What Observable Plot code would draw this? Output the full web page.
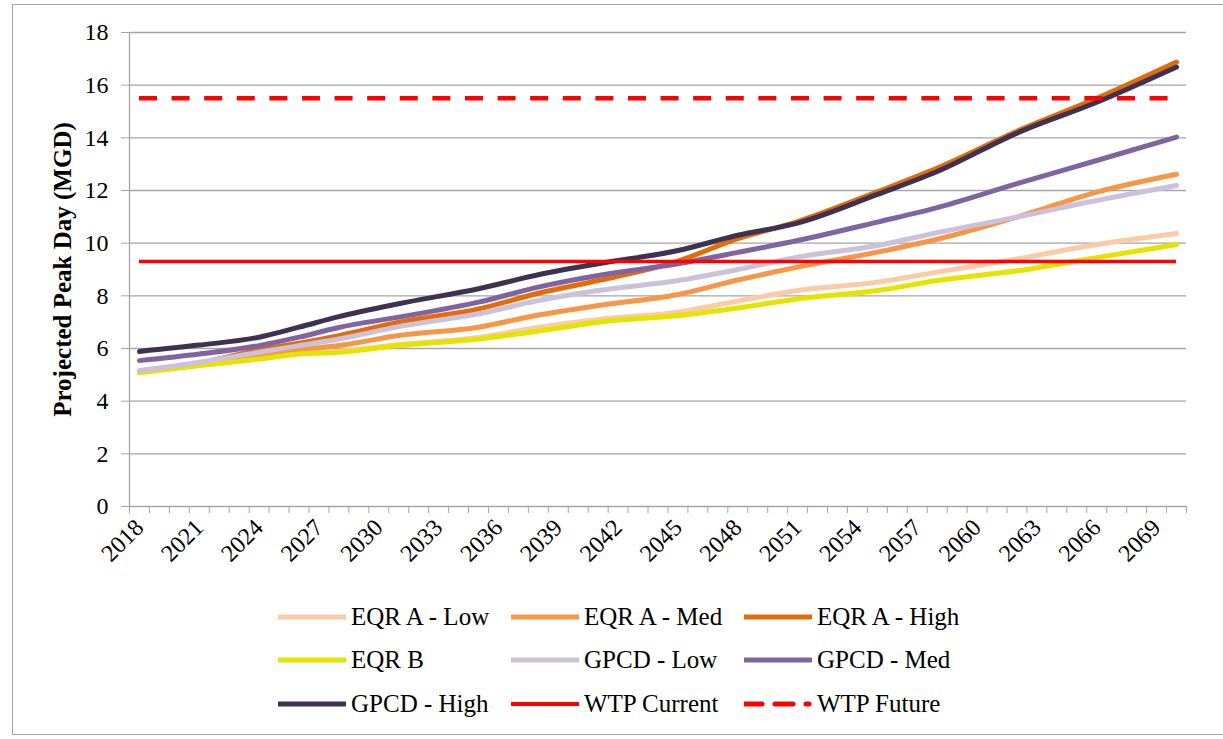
<!DOCTYPE html>
<html><head><meta charset="utf-8">
<script src="https://cdn.jsdelivr.net/npm/d3@7"></script>
<script src="https://cdn.jsdelivr.net/npm/@observablehq/plot@0.6"></script>
<style>
body{margin:0;background:#fff;font-family:"Liberation Serif","Times New Roman",serif;width:1223px;height:739px;overflow:hidden;position:relative;}
#frame{position:absolute;left:12px;top:4px;width:1230px;height:731px;border:1.5px solid #a6a6a6;box-sizing:border-box;}
#chart{position:absolute;left:0;top:0;}
#chart svg, #chart text{font-family:"Liberation Serif","Times New Roman",serif !important;}
#legend{position:absolute;left:0;top:0;width:1223px;height:739px;}
.item{position:absolute;height:30px;display:flex;align-items:center;font-size:25px;color:#000;white-space:nowrap;}
.item svg{margin-right:5px;}
</style></head>
<body><div id="frame"></div><div id="chart"></div><div id="legend"></div>
<script>
// ---- data ----
const years    = [2018, 2021, 2024, 2026, 2028, 2031, 2035, 2038, 2041, 2045, 2048, 2051, 2055, 2058, 2062, 2066, 2070];
const eqrALow  = [5.10, 5.36, 5.62, 5.80, 5.90, 6.15, 6.42, 6.80, 7.10, 7.38, 7.80, 8.20, 8.52, 8.90, 9.40, 9.95, 10.37];
const eqrAMed  = [5.12, 5.40, 5.73, 5.95, 6.11, 6.49, 6.81, 7.27, 7.63, 8.05, 8.60, 9.09, 9.66, 10.15, 10.99, 11.94, 12.62];
const eqrAHigh = [5.15, 5.45, 5.95, 6.20, 6.49, 7.00, 7.50, 8.10, 8.58, 9.32, 10.17, 10.82, 11.95, 12.85, 14.25, 15.50, 16.88];
const eqrB     = [5.08, 5.35, 5.60, 5.79, 5.86, 6.11, 6.36, 6.66, 7.00, 7.25, 7.54, 7.88, 8.20, 8.58, 8.95, 9.45, 9.95];
const gpcdLow  = [5.16, 5.48, 5.86, 6.11, 6.36, 6.83, 7.32, 7.82, 8.20, 8.58, 9.00, 9.47, 9.91, 10.40, 10.99, 11.62, 12.19];
const gpcdMed  = [5.54, 5.79, 6.11, 6.43, 6.80, 7.19, 7.76, 8.33, 8.77, 9.22, 9.65, 10.10, 10.80, 11.35, 12.26, 13.14, 14.03];
const gpcdHigh = [5.89, 6.13, 6.43, 6.81, 7.21, 7.70, 8.27, 8.80, 9.22, 9.72, 10.30, 10.76, 11.85, 12.72, 14.18, 15.35, 16.69];
const wtpCurrent = 9.3;
const wtpFuture  = 15.5;
const wtpYears   = [2018, 2070];

const seriesNames  = ["EQR A - Low", "EQR A - Med", "EQR A - High", "EQR B", "GPCD - Low", "GPCD - Med", "GPCD - High", "WTP Current", "WTP Future"];
const seriesColors = ["#fbcaa6", "#f79646", "#e36c0a", "#e4e400", "#ccc1da", "#8064a2", "#3f3151", "#ff0000", "#ff0000"];
const seriesValues = [eqrALow, eqrAMed, eqrAHigh, eqrB, gpcdLow, gpcdMed, gpcdHigh];

const xTickLabels = [2018, 2021, 2024, 2027, 2030, 2033, 2036, 2039, 2042, 2045, 2048, 2051, 2054, 2057, 2060, 2063, 2066, 2069];
const yTicks = [0, 2, 4, 6, 8, 10, 12, 14, 16, 18];
const yLabel = "Projected Peak Day (MGD)";

// ---- build ----
const serif = '"Liberation Serif", "Times New Roman", serif';
const firstYear = 2018, lastYear = 2070;
const boundaries = d3.range(firstYear - 0.5, lastYear + 1, 1);
const rows = seriesValues.map((vals, i) => years.map((yr, j) => ({series: seriesNames[i], year: yr, value: vals[j]})));

const grid = "#a6a6a6";
const lineMarks = rows.map((r, i) => Plot.line(r, {x: "year", y: "value", stroke: seriesColors[i], strokeWidth: 5, strokeLinecap: "round", strokeLinejoin: "round", curve: "monotone-x"}));

const chart = Plot.plot({
  width: 1223, height: 590,
  marginLeft: 129, marginRight: 37, marginTop: 32, marginBottom: 84,
  x: {type: "linear", domain: [firstYear - 0.5, lastYear + 0.5]},
  y: {domain: [0, 18]},
  style: {fontFamily: serif, fontSize: "24px", color: "#000", background: "transparent", overflow: "visible"},
  marks: [
    Plot.ruleY(yTicks, {stroke: grid, strokeWidth: 1.3}),
    Plot.ruleX([firstYear - 0.5], {stroke: grid, strokeWidth: 1.3}),
    Plot.axisY({ticks: yTicks, tickSize: 8, tickPadding: 13, stroke: grid, label: null, fontSize: 24, fontFamily: serif}),
    Plot.axisX({ticks: boundaries, tickSize: 7, tickFormat: () => "", stroke: grid, label: null}),
    Plot.axisX({ticks: xTickLabels, tickSize: 0, tickPadding: 17, tickRotate: -45, tickFormat: d => String(d), label: null, fontSize: 24, fontFamily: serif}),
    Plot.text([yLabel], {frameAnchor: "left", textAnchor: "middle", rotate: -90, dx: -67, fontWeight: "bold", fontSize: 25, fontFamily: serif}),
    ...lineMarks,
    Plot.ruleY([wtpCurrent], {x1: wtpYears[0], x2: wtpYears[1], stroke: seriesColors[7], strokeWidth: 3.5}),
    Plot.ruleY([wtpFuture], {x1: wtpYears[0], x2: wtpYears[1], stroke: seriesColors[8], strokeWidth: 4.5, strokeDasharray: "18 14.6"})
  ]
});
document.getElementById("chart").appendChild(chart);

// ---- legend ----
const legend = document.getElementById("legend");
const colSwatch = [278, 511, 744];
const rowY = [617, 660, 704];
seriesNames.forEach((name, i) => {
  const r = Math.floor(i / 3), c = i % 3;
  const div = document.createElement("div");
  div.className = "item";
  div.style.left = colSwatch[c] + "px";
  div.style.top = (rowY[r] - 15) + "px";
  const dash = name === "WTP Future" ? ' stroke-dasharray="18 13 18 13 3 100"' : "";
  const sw = name === "WTP Current" ? 4 : 5;
  div.innerHTML = `<svg width="68" height="10"><line x1="0" y1="5" x2="68" y2="5" stroke="${seriesColors[i]}" stroke-width="${sw}" stroke-linecap="round"${dash}/></svg><span>${name}</span>`;
  legend.appendChild(div);
});
</script>
</body></html>
